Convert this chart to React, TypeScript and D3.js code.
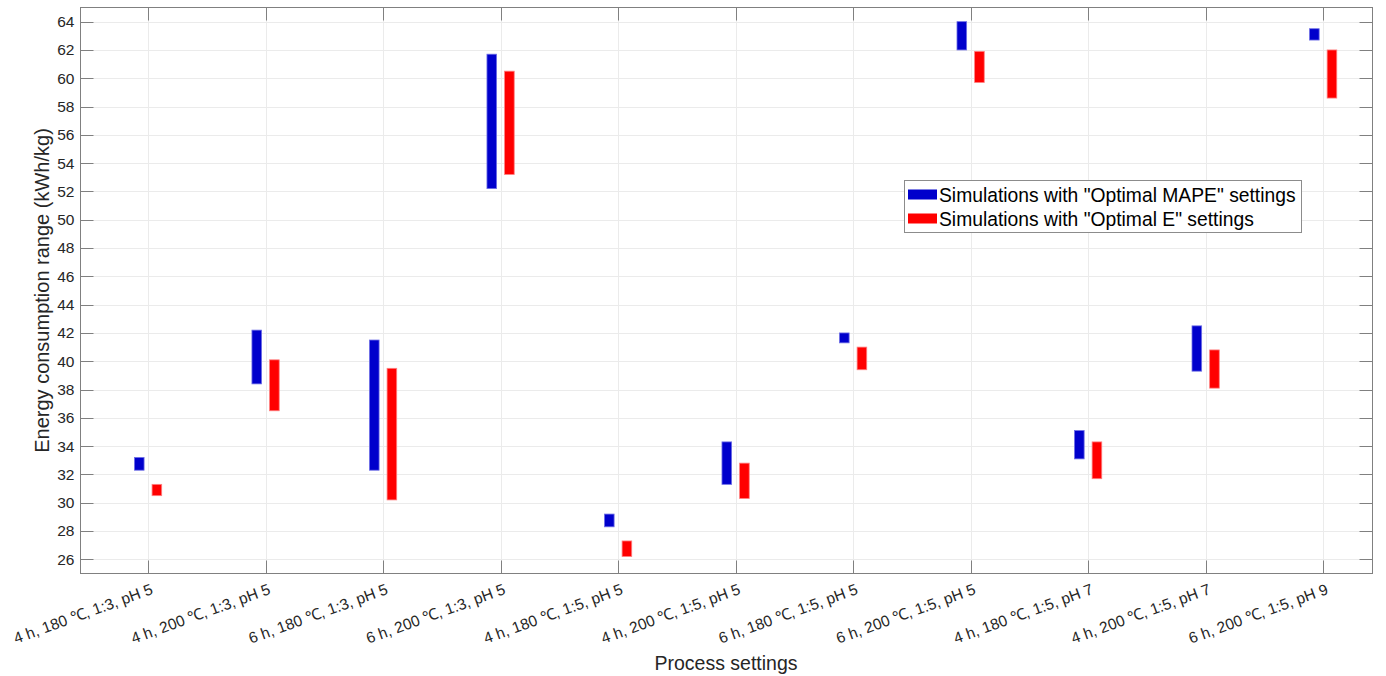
import React from "react";
import * as d3 from "d3";

// Process settings (x categories)
const categories: string[] = [
  "4 h, 180 \u2103, 1:3, pH 5",
  "4 h, 200 \u2103, 1:3, pH 5",
  "6 h, 180 \u2103, 1:3, pH 5",
  "6 h, 200 \u2103, 1:3, pH 5",
  "4 h, 180 \u2103, 1:5, pH 5",
  "4 h, 200 \u2103, 1:5, pH 5",
  "6 h, 180 \u2103, 1:5, pH 5",
  "6 h, 200 \u2103, 1:5, pH 5",
  "4 h, 180 \u2103, 1:5, pH 7",
  "4 h, 200 \u2103, 1:5, pH 7",
  "6 h, 200 \u2103, 1:5, pH 9",
];

// Energy consumption range (kWh/kg), "Optimal MAPE" settings
const mapeLow: number[] = [32.3, 38.4, 32.3, 52.2, 28.3, 31.3, 41.3, 62.0, 33.1, 39.3, 62.7];
const mapeHigh: number[] = [33.2, 42.2, 41.5, 61.7, 29.2, 34.3, 42.0, 64.0, 35.1, 42.5, 63.5];

// Energy consumption range (kWh/kg), "Optimal E" settings
const eLow: number[] = [30.5, 36.5, 30.2, 53.2, 26.2, 30.3, 39.4, 59.7, 31.7, 38.1, 58.6];
const eHigh: number[] = [31.3, 40.1, 39.5, 60.5, 27.3, 32.8, 41.0, 61.9, 34.3, 40.8, 62.0];

const yTicks: number[] = d3.range(26, 65, 2);

const seriesNames: string[] = [
  'Simulations with "Optimal MAPE" settings',
  'Simulations with "Optimal E" settings',
];
const seriesColors: string[] = ["#0000cc", "#ff0000"];
const seriesEdges: string[] = ["#6f6fe6", "#ff8080"];

const W = 1386;
const H = 676;
const left = 80.5;
const right = 1372.5;
const top = 7.5;
const bottom = 573.5;

export default function App() {
  const x = d3.scaleLinear().domain([0.425, 11.42]).range([left, right]);
  const y = d3.scaleLinear().domain([25, 65]).range([bottom, top]);
  const unit = x(1) - x(0);
  const barW = 0.082 * unit;
  const offset = 0.075;

  const series = [
    { low: mapeLow, high: mapeHigh, dx: -offset },
    { low: eLow, high: eHigh, dx: offset },
  ];

  const tickLen = 13;
  const axisColor = "#808080";
  const textColor = "#262626";
  const font = "'Liberation Sans', Arial, Helvetica, sans-serif";

  return (
    <svg
      width={W}
      height={H}
      style={{ position: "absolute", left: 0, top: 0, background: "#fff" }}
      fontFamily={font}
    >
      <rect x={0} y={0} width={W} height={H} fill="#fff" />
      {/* grid */}
      <g stroke="#ebebeb" strokeWidth={1}>
        {yTicks.map((t) => (
          <line key={"gy" + t} x1={left} x2={right} y1={Math.round(y(t)) + 0.5} y2={Math.round(y(t)) + 0.5} />
        ))}
        {categories.map((c, i) => (
          <line key={"gx" + i} x1={Math.round(x(i + 1)) + 0.5} x2={Math.round(x(i + 1)) + 0.5} y1={top} y2={bottom} />
        ))}
      </g>

      {/* range bars */}
      {series.map((s, si) => (
        <g key={"s" + si}>
          {categories.map((c, i) => {
            const cx = x(i + 1 + s.dx);
            const y0 = y(s.high[i]);
            const y1 = y(s.low[i]);
            return (
              <rect
                key={i}
                x={cx - barW / 2}
                y={y0}
                width={barW}
                height={y1 - y0}
                fill={seriesColors[si]}
                stroke={seriesEdges[si]}
                strokeWidth={0.8}
              />
            );
          })}
        </g>
      ))}

      {/* axes box and ticks */}
      <g stroke={axisColor} strokeWidth={1} fill="none">
        <rect x={left} y={top} width={right - left} height={bottom - top} />
        {yTicks.map((t) => {
          const yy = Math.round(y(t)) + 0.5;
          return (
            <g key={"ty" + t}>
              <line x1={left} x2={left + tickLen} y1={yy} y2={yy} />
              <line x1={right - tickLen} x2={right} y1={yy} y2={yy} />
            </g>
          );
        })}
        {categories.map((c, i) => {
          const xx = Math.round(x(i + 1)) + 0.5;
          return (
            <g key={"tx" + i}>
              <line x1={xx} x2={xx} y1={bottom} y2={bottom - tickLen} />
              <line x1={xx} x2={xx} y1={top} y2={top + tickLen} />
            </g>
          );
        })}
      </g>

      {/* y tick labels */}
      <g fill={textColor} fontSize={15.5} textAnchor="end">
        {yTicks.map((t) => (
          <text key={"ly" + t} x={left - 6} y={y(t)} dy="0.35em">
            {t}
          </text>
        ))}
      </g>

      {/* x tick labels */}
      <g fill={textColor} fontSize={15.5} textAnchor="end">
        {categories.map((c, i) => (
          <text
            key={"lx" + i}
            transform={`translate(${x(i + 1) + 4},${bottom + 15}) rotate(-20)`}
            dy="0.35em"
          >
            {c}
          </text>
        ))}
      </g>

      {/* axis titles */}
      <text
        x={726}
        y={670}
        textAnchor="middle"
        fontSize={19.5}
        fill={textColor}
      >
        Process settings
      </text>
      <text
        transform={`translate(49,${(top + bottom) / 2}) rotate(-90)`}
        textAnchor="middle"
        fontSize={20}
        fill={textColor}
      >
        Energy consumption range (kWh/kg)
      </text>

      {/* legend */}
      <g>
        <rect x={904.5} y={180.5} width={397} height={52} fill="#fff" stroke="#8c8c8c" strokeWidth={1} />
        {seriesNames.map((n, i) => (
          <g key={"lg" + i} transform={`translate(0,${195 + i * 24})`}>
            <rect x={908} y={-5.5} width={29} height={10} fill={seriesColors[i]} />
            <text x={939} y={0} dy="0.35em" fontSize={19.3} fill="#000">
              {n}
            </text>
          </g>
        ))}
      </g>
    </svg>
  );
}
